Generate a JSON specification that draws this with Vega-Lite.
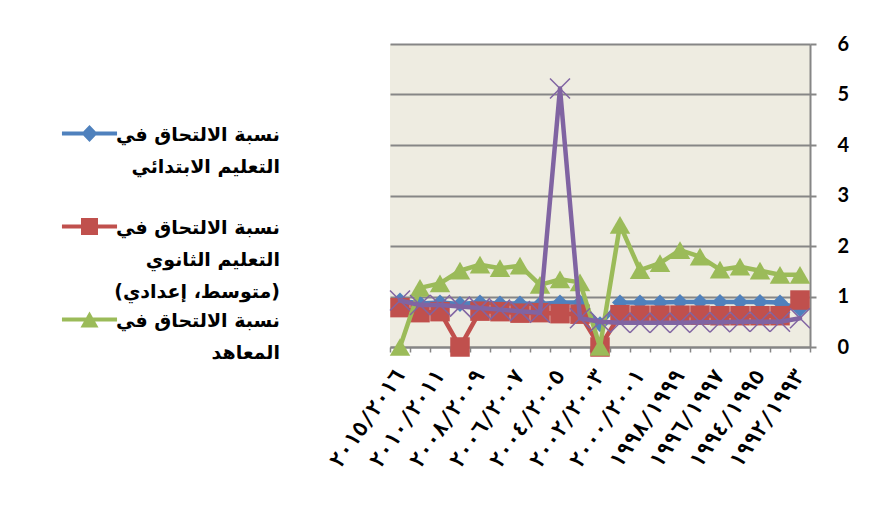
{
  "$schema": "https://vega.github.io/schema/vega-lite/v6.json",
  "width": 420,
  "height": 303,
  "autosize": {"type": "none"},
  "padding": {"left": 390, "top": 44, "right": 63, "bottom": 167},
  "background": "white",
  "config": {
    "view": {"fill": "#EEECE1", "stroke": null},
    "style": {"guide-label": {"lineHeight": 32}},
    "legend": {
      "orient": "none",
      "legendX": -310,
      "legendY": 72,
      "title": null,
      "padding": 0,
      "labelAlign": "right",
      "labelOffset": 181,
      "labelBaseline": "top",
      "labelFont": "DejaVu Sans",
      "labelFontSize": 19,
      "labelFontWeight": "bold",
      "labelColor": "#000000",
      "labelLimit": 400,
      "symbolSize": 289,
      "symbolStrokeWidth": 0,
      "symbolOpacity": 1,
      "gridAlign": "all",
      "rowPadding": -8
    }
  },
  "data": {
    "values": [
      {"year": "٢٠١٥/٢٠١٦", "series": "نسبة الالتحاق في التعليم الابتدائي", "v": 0.92},
      {"year": "٢٠١١/٢٠١٢", "series": "نسبة الالتحاق في التعليم الابتدائي", "v": 0.86},
      {"year": "٢٠١٠/٢٠١١", "series": "نسبة الالتحاق في التعليم الابتدائي", "v": 0.88},
      {"year": "٢٠٠٩/٢٠١٠", "series": "نسبة الالتحاق في التعليم الابتدائي", "v": 0.85},
      {"year": "٢٠٠٨/٢٠٠٩", "series": "نسبة الالتحاق في التعليم الابتدائي", "v": 0.88},
      {"year": "٢٠٠٧/٢٠٠٨", "series": "نسبة الالتحاق في التعليم الابتدائي", "v": 0.86},
      {"year": "٢٠٠٦/٢٠٠٧", "series": "نسبة الالتحاق في التعليم الابتدائي", "v": 0.86},
      {"year": "٢٠٠٥/٢٠٠٦", "series": "نسبة الالتحاق في التعليم الابتدائي", "v": 0.85},
      {"year": "٢٠٠٤/٢٠٠٥", "series": "نسبة الالتحاق في التعليم الابتدائي", "v": 0.88},
      {"year": "٢٠٠٣/٢٠٠٤", "series": "نسبة الالتحاق في التعليم الابتدائي", "v": 0.88},
      {"year": "٢٠٠٢/٢٠٠٣", "series": "نسبة الالتحاق في التعليم الابتدائي", "v": 0.45},
      {"year": "٢٠٠١/٢٠٠٢", "series": "نسبة الالتحاق في التعليم الابتدائي", "v": 0.88},
      {"year": "٢٠٠٠/٢٠٠١", "series": "نسبة الالتحاق في التعليم الابتدائي", "v": 0.88},
      {"year": "١٩٩٩/٢٠٠٠", "series": "نسبة الالتحاق في التعليم الابتدائي", "v": 0.88},
      {"year": "١٩٩٨/١٩٩٩", "series": "نسبة الالتحاق في التعليم الابتدائي", "v": 0.89},
      {"year": "١٩٩٧/١٩٩٨", "series": "نسبة الالتحاق في التعليم الابتدائي", "v": 0.89},
      {"year": "١٩٩٦/١٩٩٧", "series": "نسبة الالتحاق في التعليم الابتدائي", "v": 0.89},
      {"year": "١٩٩٥/١٩٩٦", "series": "نسبة الالتحاق في التعليم الابتدائي", "v": 0.89},
      {"year": "١٩٩٤/١٩٩٥", "series": "نسبة الالتحاق في التعليم الابتدائي", "v": 0.89},
      {"year": "١٩٩٣/١٩٩٤", "series": "نسبة الالتحاق في التعليم الابتدائي", "v": 0.88},
      {"year": "١٩٩٢/١٩٩٣", "series": "نسبة الالتحاق في التعليم الابتدائي", "v": 0.75},

      {"year": "٢٠١٥/٢٠١٦", "series": "نسبة الالتحاق في التعليم الثانوي (متوسط، إعدادي)", "v": 0.78},
      {"year": "٢٠١١/٢٠١٢", "series": "نسبة الالتحاق في التعليم الثانوي (متوسط، إعدادي)", "v": 0.68},
      {"year": "٢٠١٠/٢٠١١", "series": "نسبة الالتحاق في التعليم الثانوي (متوسط، إعدادي)", "v": 0.70},
      {"year": "٢٠٠٩/٢٠١٠", "series": "نسبة الالتحاق في التعليم الثانوي (متوسط، إعدادي)", "v": 0.0},
      {"year": "٢٠٠٨/٢٠٠٩", "series": "نسبة الالتحاق في التعليم الثانوي (متوسط، إعدادي)", "v": 0.71},
      {"year": "٢٠٠٧/٢٠٠٨", "series": "نسبة الالتحاق في التعليم الثانوي (متوسط، إعدادي)", "v": 0.70},
      {"year": "٢٠٠٦/٢٠٠٧", "series": "نسبة الالتحاق في التعليم الثانوي (متوسط، إعدادي)", "v": 0.67},
      {"year": "٢٠٠٥/٢٠٠٦", "series": "نسبة الالتحاق في التعليم الثانوي (متوسط، إعدادي)", "v": 0.68},
      {"year": "٢٠٠٤/٢٠٠٥", "series": "نسبة الالتحاق في التعليم الثانوي (متوسط، إعدادي)", "v": 0.66},
      {"year": "٢٠٠٣/٢٠٠٤", "series": "نسبة الالتحاق في التعليم الثانوي (متوسط، إعدادي)", "v": 0.65},
      {"year": "٢٠٠٢/٢٠٠٣", "series": "نسبة الالتحاق في التعليم الثانوي (متوسط، إعدادي)", "v": 0.0},
      {"year": "٢٠٠١/٢٠٠٢", "series": "نسبة الالتحاق في التعليم الثانوي (متوسط، إعدادي)", "v": 0.64},
      {"year": "٢٠٠٠/٢٠٠١", "series": "نسبة الالتحاق في التعليم الثانوي (متوسط، إعدادي)", "v": 0.63},
      {"year": "١٩٩٩/٢٠٠٠", "series": "نسبة الالتحاق في التعليم الثانوي (متوسط، إعدادي)", "v": 0.63},
      {"year": "١٩٩٨/١٩٩٩", "series": "نسبة الالتحاق في التعليم الثانوي (متوسط، إعدادي)", "v": 0.63},
      {"year": "١٩٩٧/١٩٩٨", "series": "نسبة الالتحاق في التعليم الثانوي (متوسط، إعدادي)", "v": 0.63},
      {"year": "١٩٩٦/١٩٩٧", "series": "نسبة الالتحاق في التعليم الثانوي (متوسط، إعدادي)", "v": 0.62},
      {"year": "١٩٩٥/١٩٩٦", "series": "نسبة الالتحاق في التعليم الثانوي (متوسط، إعدادي)", "v": 0.62},
      {"year": "١٩٩٤/١٩٩٥", "series": "نسبة الالتحاق في التعليم الثانوي (متوسط، إعدادي)", "v": 0.62},
      {"year": "١٩٩٣/١٩٩٤", "series": "نسبة الالتحاق في التعليم الثانوي (متوسط، إعدادي)", "v": 0.62},
      {"year": "١٩٩٢/١٩٩٣", "series": "نسبة الالتحاق في التعليم الثانوي (متوسط، إعدادي)", "v": 0.93},

      {"year": "٢٠١٥/٢٠١٦", "series": "نسبة الالتحاق في المعاهد", "v": 0.0},
      {"year": "٢٠١١/٢٠١٢", "series": "نسبة الالتحاق في المعاهد", "v": 1.17},
      {"year": "٢٠١٠/٢٠١١", "series": "نسبة الالتحاق في المعاهد", "v": 1.26},
      {"year": "٢٠٠٩/٢٠١٠", "series": "نسبة الالتحاق في المعاهد", "v": 1.51},
      {"year": "٢٠٠٨/٢٠٠٩", "series": "نسبة الالتحاق في المعاهد", "v": 1.63},
      {"year": "٢٠٠٧/٢٠٠٨", "series": "نسبة الالتحاق في المعاهد", "v": 1.56},
      {"year": "٢٠٠٦/٢٠٠٧", "series": "نسبة الالتحاق في المعاهد", "v": 1.61},
      {"year": "٢٠٠٥/٢٠٠٦", "series": "نسبة الالتحاق في المعاهد", "v": 1.23},
      {"year": "٢٠٠٤/٢٠٠٥", "series": "نسبة الالتحاق في المعاهد", "v": 1.34},
      {"year": "٢٠٠٣/٢٠٠٤", "series": "نسبة الالتحاق في المعاهد", "v": 1.28},
      {"year": "٢٠٠٢/٢٠٠٣", "series": "نسبة الالتحاق في المعاهد", "v": 0.0},
      {"year": "٢٠٠١/٢٠٠٢", "series": "نسبة الالتحاق في المعاهد", "v": 2.42},
      {"year": "٢٠٠٠/٢٠٠١", "series": "نسبة الالتحاق في المعاهد", "v": 1.52},
      {"year": "١٩٩٩/٢٠٠٠", "series": "نسبة الالتحاق في المعاهد", "v": 1.66},
      {"year": "١٩٩٨/١٩٩٩", "series": "نسبة الالتحاق في المعاهد", "v": 1.92},
      {"year": "١٩٩٧/١٩٩٨", "series": "نسبة الالتحاق في المعاهد", "v": 1.79},
      {"year": "١٩٩٦/١٩٩٧", "series": "نسبة الالتحاق في المعاهد", "v": 1.53},
      {"year": "١٩٩٥/١٩٩٦", "series": "نسبة الالتحاق في المعاهد", "v": 1.59},
      {"year": "١٩٩٤/١٩٩٥", "series": "نسبة الالتحاق في المعاهد", "v": 1.51},
      {"year": "١٩٩٣/١٩٩٤", "series": "نسبة الالتحاق في المعاهد", "v": 1.43},
      {"year": "١٩٩٢/١٩٩٣", "series": "نسبة الالتحاق في المعاهد", "v": 1.43},

      {"year": "٢٠١٥/٢٠١٦", "series": "نسبة الالتحاق في التعليم الجامعي", "v": 0.92},
      {"year": "٢٠١١/٢٠١٢", "series": "نسبة الالتحاق في التعليم الجامعي", "v": 0.83},
      {"year": "٢٠١٠/٢٠١١", "series": "نسبة الالتحاق في التعليم الجامعي", "v": 0.83},
      {"year": "٢٠٠٩/٢٠١٠", "series": "نسبة الالتحاق في التعليم الجامعي", "v": 0.80},
      {"year": "٢٠٠٨/٢٠٠٩", "series": "نسبة الالتحاق في التعليم الجامعي", "v": 0.77},
      {"year": "٢٠٠٧/٢٠٠٨", "series": "نسبة الالتحاق في التعليم الجامعي", "v": 0.74},
      {"year": "٢٠٠٦/٢٠٠٧", "series": "نسبة الالتحاق في التعليم الجامعي", "v": 0.71},
      {"year": "٢٠٠٥/٢٠٠٦", "series": "نسبة الالتحاق في التعليم الجامعي", "v": 0.68},
      {"year": "٢٠٠٤/٢٠٠٥", "series": "نسبة الالتحاق في التعليم الجامعي", "v": 5.12},
      {"year": "٢٠٠٣/٢٠٠٤", "series": "نسبة الالتحاق في التعليم الجامعي", "v": 0.57},
      {"year": "٢٠٠٢/٢٠٠٣", "series": "نسبة الالتحاق في التعليم الجامعي", "v": 0.50},
      {"year": "٢٠٠١/٢٠٠٢", "series": "نسبة الالتحاق في التعليم الجامعي", "v": 0.48},
      {"year": "٢٠٠٠/٢٠٠١", "series": "نسبة الالتحاق في التعليم الجامعي", "v": 0.48},
      {"year": "١٩٩٩/٢٠٠٠", "series": "نسبة الالتحاق في التعليم الجامعي", "v": 0.48},
      {"year": "١٩٩٨/١٩٩٩", "series": "نسبة الالتحاق في التعليم الجامعي", "v": 0.48},
      {"year": "١٩٩٧/١٩٩٨", "series": "نسبة الالتحاق في التعليم الجامعي", "v": 0.49},
      {"year": "١٩٩٦/١٩٩٧", "series": "نسبة الالتحاق في التعليم الجامعي", "v": 0.49},
      {"year": "١٩٩٥/١٩٩٦", "series": "نسبة الالتحاق في التعليم الجامعي", "v": 0.50},
      {"year": "١٩٩٤/١٩٩٥", "series": "نسبة الالتحاق في التعليم الجامعي", "v": 0.50},
      {"year": "١٩٩٣/١٩٩٤", "series": "نسبة الالتحاق في التعليم الجامعي", "v": 0.50},
      {"year": "١٩٩٢/١٩٩٣", "series": "نسبة الالتحاق في التعليم الجامعي", "v": 0.57}
    ]
  },
  "encoding": {
    "x": {
      "field": "year",
      "type": "nominal",
      "sort": null,
      "scale": {
        "type": "band",
        "paddingInner": 0,
        "paddingOuter": 0,
        "domain": ["٢٠١٥/٢٠١٦", "٢٠١١/٢٠١٢", "٢٠١٠/٢٠١١", "٢٠٠٩/٢٠١٠", "٢٠٠٨/٢٠٠٩", "٢٠٠٧/٢٠٠٨", "٢٠٠٦/٢٠٠٧", "٢٠٠٥/٢٠٠٦", "٢٠٠٤/٢٠٠٥", "٢٠٠٣/٢٠٠٤", "٢٠٠٢/٢٠٠٣", "٢٠٠١/٢٠٠٢", "٢٠٠٠/٢٠٠١", "١٩٩٩/٢٠٠٠", "١٩٩٨/١٩٩٩", "١٩٩٧/١٩٩٨", "١٩٩٦/١٩٩٧", "١٩٩٥/١٩٩٦", "١٩٩٤/١٩٩٥", "١٩٩٣/١٩٩٤", "١٩٩٢/١٩٩٣"]
      },
      "axis": {
        "title": null,
        "grid": false,
        "domainColor": "#868686",
        "domainWidth": 2,
        "ticks": true,
        "tickBand": "extent",
        "tickColor": "#868686",
        "tickWidth": 1.5,
        "tickSize": 5,
        "labelAngle": -55,
        "labelAlign": "right",
        "labelBaseline": "middle",
        "labelPadding": 20,
        "labelFont": "DejaVu Sans Mono",
        "labelFontSize": 21,
        "labelFontWeight": "bold",
        "labelColor": "#000000",
        "labelOverlap": false,
        "labelExpr": "indexof(['٢٠١٥/٢٠١٦', '٢٠١٠/٢٠١١', '٢٠٠٨/٢٠٠٩', '٢٠٠٦/٢٠٠٧', '٢٠٠٤/٢٠٠٥', '٢٠٠٢/٢٠٠٣', '٢٠٠٠/٢٠٠١', '١٩٩٨/١٩٩٩', '١٩٩٦/١٩٩٧', '١٩٩٤/١٩٩٥', '١٩٩٢/١٩٩٣'], datum.label) >= 0 ? datum.label : ''"
      }
    },
    "y": {
      "field": "v",
      "type": "quantitative",
      "scale": {"domain": [0, 6], "nice": false, "zero": true},
      "axis": {
        "orient": "right",
        "title": null,
        "values": [0, 1, 2, 3, 4, 5, 6],
        "grid": true,
        "gridColor": "#868686",
        "gridWidth": 2,
        "domainColor": "#868686",
        "domainWidth": 2,
        "tickColor": "#868686",
        "tickWidth": 2,
        "tickSize": 6,
        "labelPadding": 21,
        "labelFont": "Lato",
        "labelFontSize": 20,
        "labelFontWeight": "bold",
        "labelColor": "#000000"
      }
    }
  },
  "layer": [
    {
      "transform": [{"filter": {"field": "series", "equal": "نسبة الالتحاق في التعليم الابتدائي"}}],
      "mark": {"type": "line", "color": "#4F81BD", "strokeWidth": 4.5, "strokeJoin": "round", "strokeCap": "round"}
    },
    {
      "transform": [{"filter": {"field": "series", "equal": "نسبة الالتحاق في التعليم الابتدائي"}}],
      "mark": {"type": "point", "shape": "diamond", "filled": true, "color": "#4F81BD", "size": 256, "opacity": 1}
    },
    {
      "transform": [{"filter": {"field": "series", "equal": "نسبة الالتحاق في التعليم الثانوي (متوسط، إعدادي)"}}],
      "mark": {"type": "line", "color": "#C0504D", "strokeWidth": 4.5, "strokeJoin": "round", "strokeCap": "round"}
    },
    {
      "transform": [{"filter": {"field": "series", "equal": "نسبة الالتحاق في التعليم الثانوي (متوسط، إعدادي)"}}],
      "mark": {"type": "point", "shape": "square", "filled": true, "color": "#C0504D", "size": 380, "opacity": 1}
    },
    {
      "transform": [{"filter": {"field": "series", "equal": "نسبة الالتحاق في المعاهد"}}],
      "mark": {"type": "line", "color": "#9BBB59", "strokeWidth": 4.5, "strokeJoin": "round", "strokeCap": "round"}
    },
    {
      "transform": [{"filter": {"field": "series", "equal": "نسبة الالتحاق في المعاهد"}}],
      "mark": {"type": "point", "shape": "triangle-up", "filled": true, "color": "#9BBB59", "size": 420, "opacity": 1}
    },
    {
      "transform": [{"filter": {"field": "series", "equal": "نسبة الالتحاق في التعليم الجامعي"}}],
      "mark": {"type": "line", "color": "#8064A2", "strokeWidth": 4.5, "strokeJoin": "round", "strokeCap": "round"}
    },
    {
      "transform": [{"filter": {"field": "series", "equal": "نسبة الالتحاق في التعليم الجامعي"}}],
      "mark": {"type": "point", "shape": "M-1,-1L1,1M-1,1L1,-1", "filled": false, "color": "#8064A2", "strokeWidth": 1.5, "size": 400, "opacity": 1}
    },
    {
      "transform": [{"filter": {"field": "series", "oneOf": ["نسبة الالتحاق في التعليم الابتدائي", "نسبة الالتحاق في التعليم الثانوي (متوسط، إعدادي)", "نسبة الالتحاق في المعاهد"]}}],
      "mark": {"type": "point", "filled": true, "opacity": 0},
      "encoding": {
        "color": {
          "field": "series",
          "type": "nominal",
          "scale": {
            "domain": ["نسبة الالتحاق في التعليم الابتدائي", "نسبة الالتحاق في التعليم الثانوي (متوسط، إعدادي)", "نسبة الالتحاق في المعاهد"],
            "range": ["#4F81BD", "#C0504D", "#9BBB59"]
          },
          "legend": {
            "labelExpr": "datum.label == 'نسبة الالتحاق في التعليم الابتدائي' ? ['نسبة الالتحاق في', 'التعليم الابتدائي'] : datum.label == 'نسبة الالتحاق في المعاهد' ? ['نسبة الالتحاق في', 'المعاهد'] : ['نسبة الالتحاق في', 'التعليم الثانوي', '(متوسط، إعدادي)']"
          }
        },
        "shape": {
          "field": "series",
          "type": "nominal",
          "scale": {
            "domain": ["نسبة الالتحاق في التعليم الابتدائي", "نسبة الالتحاق في التعليم الثانوي (متوسط، إعدادي)", "نسبة الالتحاق في المعاهد"],
            "range": [
              "M-3.24,0.71L3.24,0.71L3.24,1.19L-3.24,1.19Z M-0.95,0.95L0,-0.05L0.95,0.95L0,1.95Z",
              "M-3.24,0.71L3.24,0.71L3.24,1.19L-3.24,1.19Z M-1,-0.05L1,-0.05L1,1.95L-1,1.95Z",
              "M-3.24,0.71L3.24,0.71L3.24,1.19L-3.24,1.19Z M-1.06,1.89L0,0.01L1.06,1.89Z"
            ]
          },
          "legend": {
            "labelExpr": "datum.label == 'نسبة الالتحاق في التعليم الابتدائي' ? ['نسبة الالتحاق في', 'التعليم الابتدائي'] : datum.label == 'نسبة الالتحاق في المعاهد' ? ['نسبة الالتحاق في', 'المعاهد'] : ['نسبة الالتحاق في', 'التعليم الثانوي', '(متوسط، إعدادي)']"
          }
        }
      }
    }
  ]
}
